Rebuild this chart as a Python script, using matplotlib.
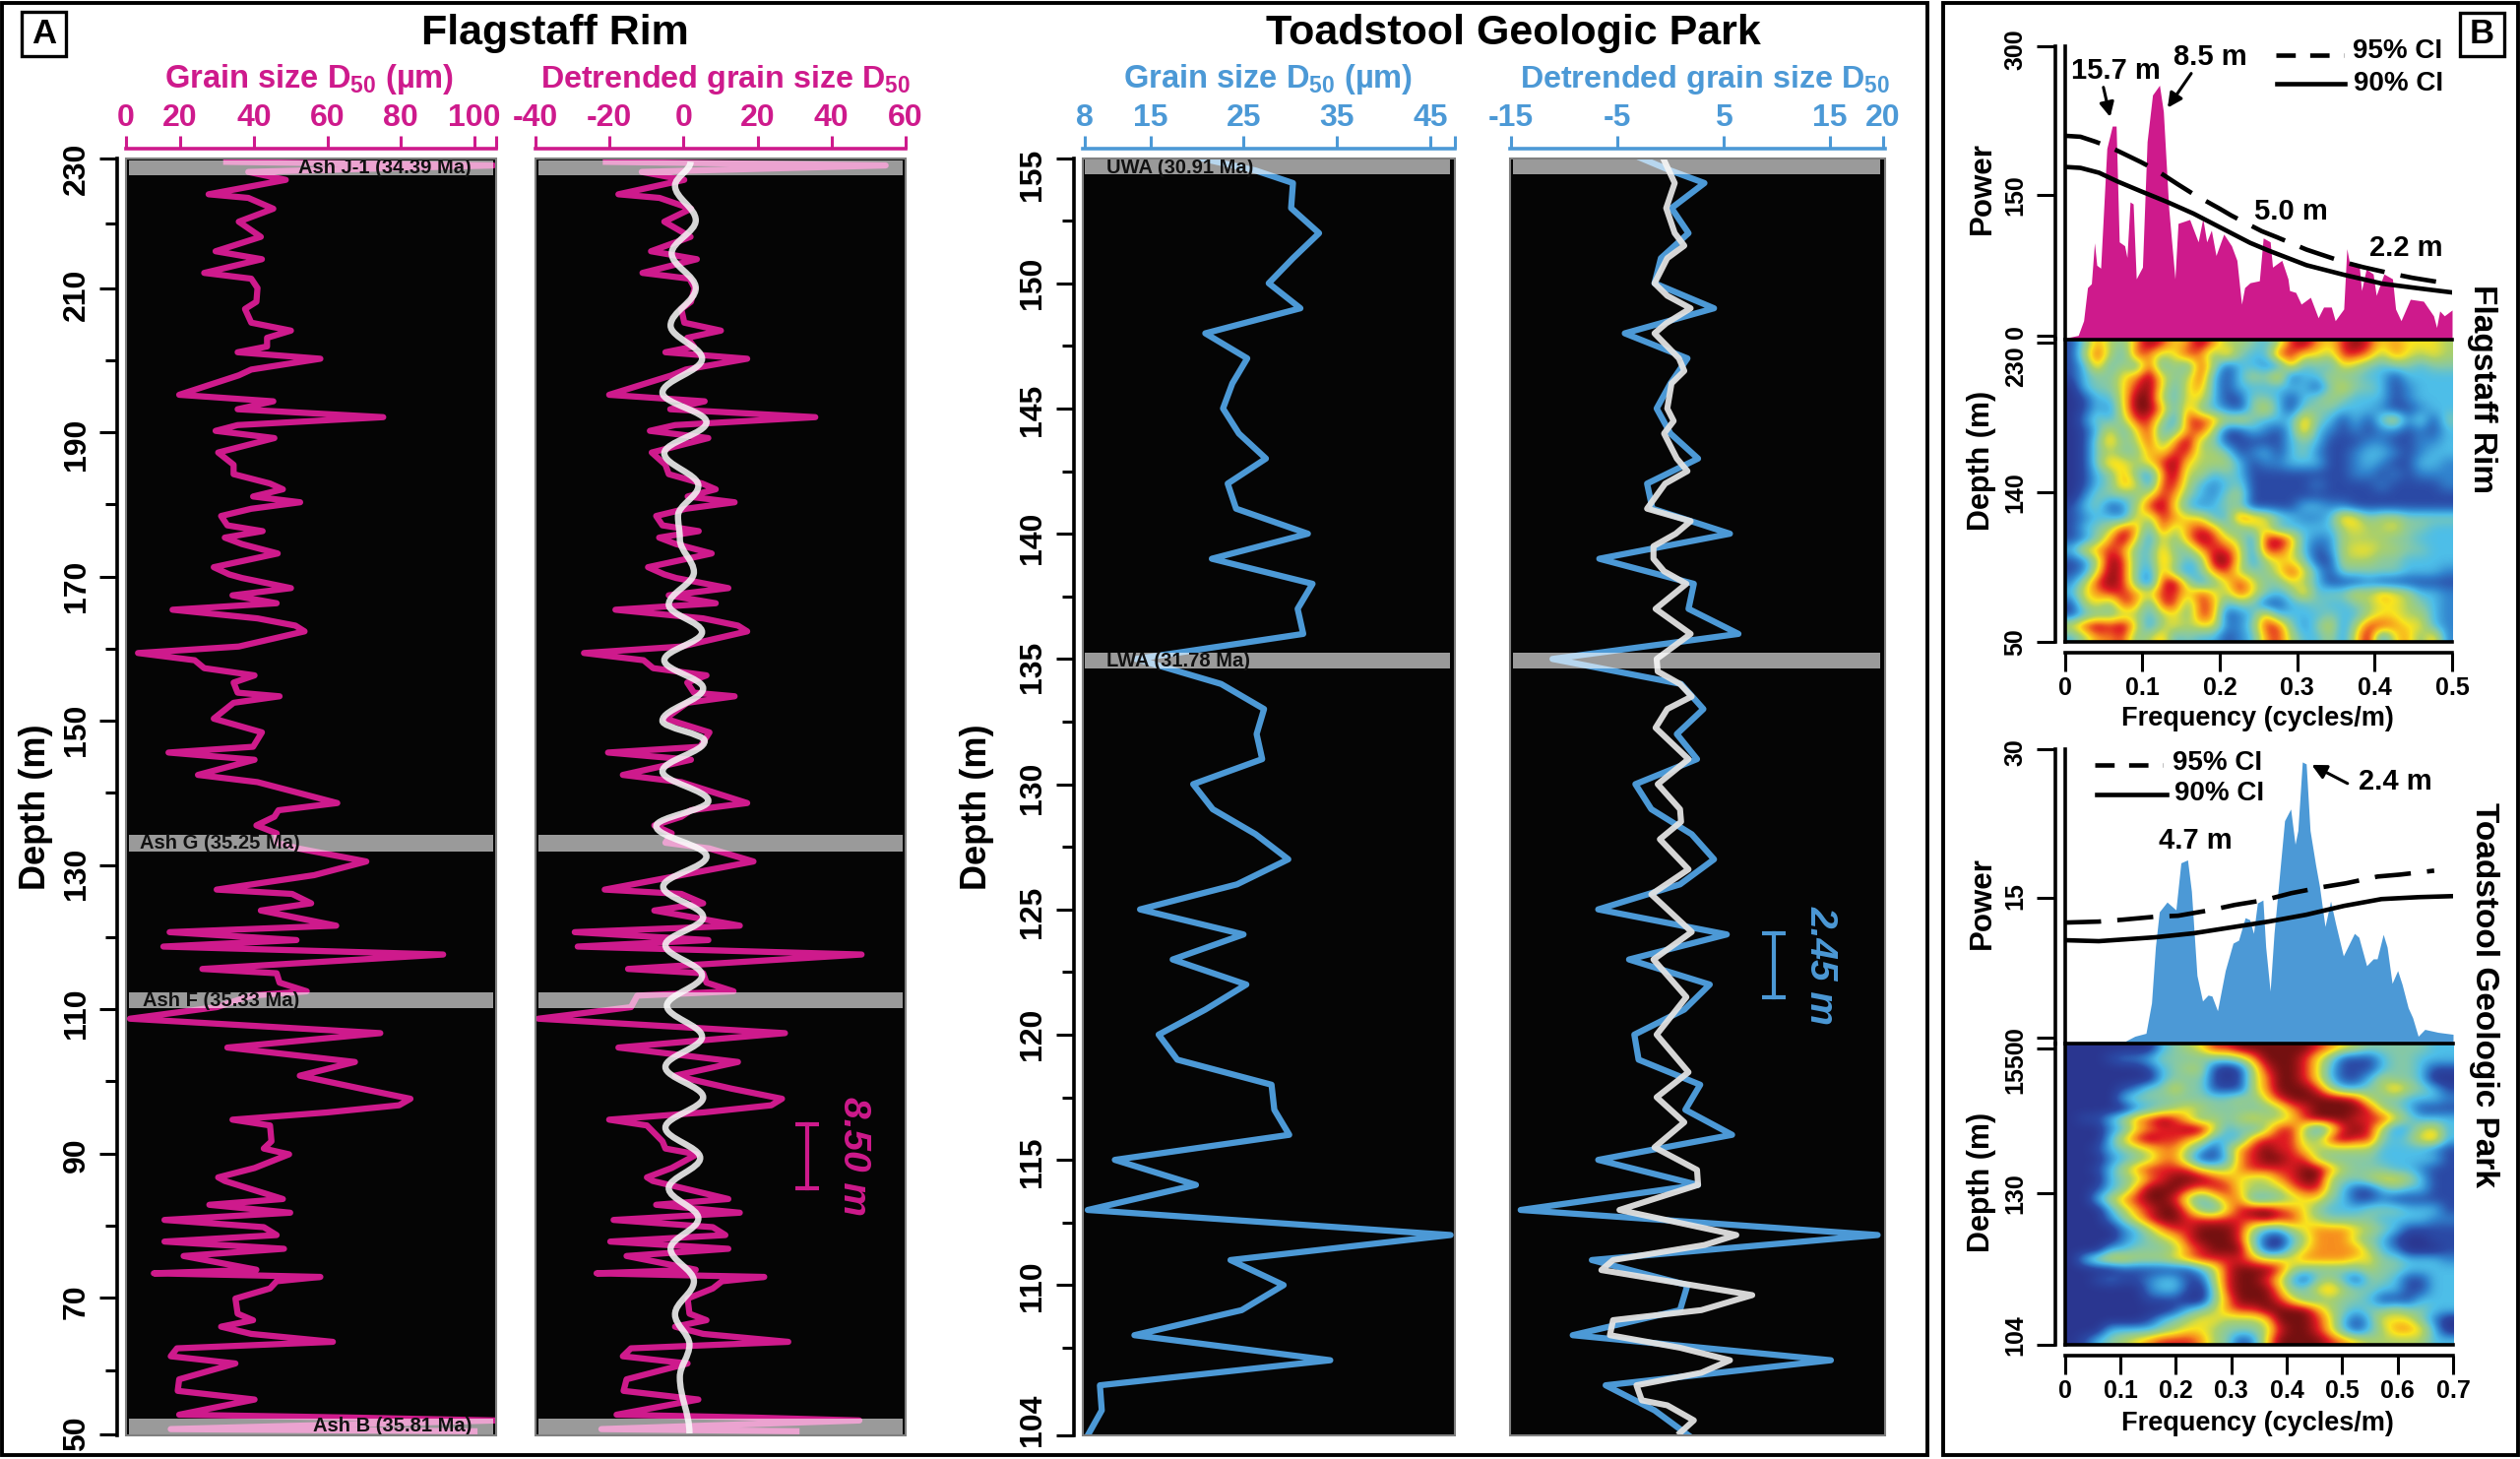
import matplotlib
matplotlib.use("Agg")
import matplotlib.pyplot as plt
import numpy as np
from matplotlib.colors import LinearSegmentedColormap
from matplotlib.lines import Line2D
from matplotlib.patches import Rectangle, PathPatch, FancyArrowPatch
from matplotlib.path import Path
from matplotlib.transforms import ScaledTranslation

plt.rcParams['font.family'] = ['Liberation Sans', 'DejaVu Sans']
plt.rcParams['font.weight'] = 'bold'
plt.rcParams['mathtext.fontset'] = 'custom'
plt.rcParams['mathtext.rm'] = 'Liberation Sans:bold'
plt.rcParams['mathtext.default'] = 'rm'

# ---------- Flagstaff Rim grain size ----------
fs_depth = [227.5,227.0,226.1,225.0,223.0,222.5,221.0,219.2,217.1,215.1,214.0,212.1,211.3,210,208.1,207.1,205.2,204.1,203.1,201.9,
 201.1,200.2,198.7,197.9,195.2,194.3,193.2,192.1,191,190.2,189.2,187.2,185.5,184.2,182.9,182.1,181.1,180.3,179.4,178.4,
 177.1,176.3,175.4,174.5,173.2,171.3,170.3,169.8,168.4,167.4,166.3,165.4,164.2,163.2,162.4,160.3,159.4,158.4,157.3,156.3,
 155.3,153.9,153.4,152.5,150.3,148.4,146.4,145.6,144.6,142.5,141.5,138.6,137.6,136.7,135.5,134.4,133.1,132.3,130.5,128.6,
 126.6,126,124.7,123.7,121.6,120.7,119.6,118.7,117.6,115.6,115,113.7,112.5,111.9,110.3,108.7,106.7,104.7,102.7,100.8,
 99,97.6,96.7,95.7,94.7,93.9,91.7,90.7,89.9,88,86.7,86.2,83.7,82.9,81.8,80.8,79.8,78.7,77.8,76.8,
 75.8,73.9,73.4,73.1,72.9,72.3,71.3,69.9,67.8,66.9,66,65,63.9,63,61.9,60.9,58.7,57.1,55.9,53.8,
 53.4,53,51.8,51.5]
fs_raw = [32.5,105.1,38.5,48.7,27.7,38.5,45.3,35.9,41.9,29.6,42.2,26.5,39.3,41,40.7,37.6,39.3,50.1,43.6,43.6,
 35.6,58.1,39.3,35.9,19.7,45.3,35.6,75.2,35.6,29.6,45.6,30.3,34.5,34.5,44.4,47.9,39.8,52.6,39.3,31.1,
 32.8,42.4,32.1,36.8,46.5,29.1,33.3,36.8,50.1,34.2,46.2,17.9,41,51.3,53.8,35.9,8.5,23.9,26.5,40.2,
 34.5,35.6,47,34.5,29.1,42.2,39.8,16.8,40.2,24.8,41,62.7,46.7,45.6,40.7,46.2,46.2,52.1,70.6,56.4,
 29.9,50.4,55.6,41.9,62.4,17.1,51.6,15.4,91.5,26,46.2,47,54.4,39.3,29.9,6.3,74.4,32.8,67.5,52.5,
 69.2,82.6,79.5,59.8,34.2,44.4,44.8,42.7,49.6,40.2,30.3,32.1,47.9,27.9,49.9,15.7,42.7,46.2,15.7,48.2,
 20.9,40.7,12.8,41,58.1,46.2,44.4,35,35.6,39.8,31.1,39.3,61.5,19.1,17.4,35,19.7,19.3,40.2,19.7,
 66.7,105.6,17.4,100]
fs_detrended = [-21,54.6,-11.3,.2,-17.6,-6.5,2,-5.2,1.9,-8.8,3.6,-11.1,1.6,3,2,-.6,.2,10.1,1,2.8,
 -4.9,17.2,.6,-3.2,-20.1,5.7,-3.6,35.6,-2.3,-9.1,6.7,-8.6,-4.9,-4,5,8.7,1.1,13.8,.6,-7.4,
 -5.7,4.1,-6.6,-2,7.6,-9.6,-5.2,-2,12.1,-4,8.7,-18.4,5.3,14.7,17.2,-.6,-26.9,-10.8,-8.2,6.2,
 1,2.8,13.8,1,-4.9,7,4.5,-20.4,2,-16.4,-.6,17.2,2,-.6,-7.9,-3.2,-4.9,7,18.9,-.6,
 -21.3,-.6,5.3,-7.9,15.2,-29.4,6.7,-28.6,48.1,-15,5.3,6.2,13.5,-12.5,-14.2,-39.2,27.4,-17.6,14.7,-2.3,
 13,26.6,23.7,5.3,-20.1,-9.9,-5.7,-4.9,3.6,-3.2,-9.9,-8.3,12.1,-7.4,15.2,-18.9,7.9,11.3,-19.8,12.1,
 -15.4,3.3,-23.5,2.8,21.8,10.4,7.9,1.1,1.6,6.2,-2.3,5.3,28.3,-14.2,-16.4,1.1,-15.4,-16.2,4,-18.1,
 18.9,47.5,-22.2,30.5]
fs_filter_depth = [227.5,224.2,219.4,214.8,210,204.8,200.2,195.5,191.4,187.1,182.6,178.4,175.2,170.6,166.1,162.3,158.4,154.5,150,147.2,
 143,138.9,135.4,131.2,127,122.8,118.9,114.7,110.5,106.2,102,97.8,93.6,89.4,85.2,81,76.8,72.3,67.7,63.5,59,51.2]
fs_filter = [1.9,-2.3,3.3,-3.2,3.3,-3.5,5,-5.7,6.2,-5.2,4,-1.5,-1,2.8,-4,5,-5.2,5.3,-5.7,5.7,
 -5.7,6.7,-7.4,6.2,-5.5,5.3,-4.9,5,-4.5,5,-4.9,5.3,-4.9,4.5,-4,4,-3.5,2.8,-2.3,1.6,-1,1.6]

# ---------- Toadstool grain size ----------
tg_depth = [155,154.5,154,153,152,151,150,149,148,147,146,145,144,143,142,141,140,139,138,137,136,135,134,133,132,131,130,
 129,128,127,126,125,124,123,122,121,120,119,118,117,116,115,114,113,112,111,110,109,108,107,106,105,104]
tg_raw = [20.3,26.3,30.3,30.1,33.1,30.3,27.7,31.1,20.9,25.4,23.8,22.8,24.5,27.4,23.3,24.2,31.9,21.6,32.4,30.8,31.4,13.5,22.6,27.2,26.4,27,19.6,
 21.7,26.3,29.8,24.3,13.9,25,17.4,25.3,20.9,15.9,17.9,28,28.3,29.9,11.2,19.9,8.3,47.2,23.6,29.3,24.8,13.3,34.3,9.6,9.8,8.3]
tg_detrended = [-2.8,0,3.2,.1,1.7,-.9,-1.5,4.1,-4.3,1.6,0,-1.3,0,2.6,-2.2,-1.7,5.6,-6.7,2.2,1.7,6.4,-11.1,1,3.1,.6,2.5,-3.3,
 -1.8,2,4.1,.9,-6.8,5.3,-3.9,3.7,1.3,-3.4,-3,2.8,1.4,5.8,-6.8,2.6,-14.1,19.5,-7.4,1.6,.9,-9.2,15.1,-6.1,-1.5,1.7]
tg_filter_depth = [155,154,153,152,151.5,151,150,149.5,149,148.4,148,147,146.5,146,145,144.5,144,143,142.5,142,141,140.5,140,139.5,139,138.5,138,137,136,135,134.5,134,133.5,133,132.25,
 131,130,129,128.5,127.8,126.6,125.6,124.1,123,121.5,120,118.5,117.5,116.5,115.5,114.6,114,113,112,111.6,111,110.6,109.6,109,108.6,108,107.5,107,106.5,106,105.4,105.2,104.6,104.1]
tg_filter = [-.7,.4,-.4,.4,1.3,-.3,-1.5,-.3,1.9,-.4,-1.5,.8,1.3,.1,-.3,.3,-.6,.6,1.6,-.5,-2.2,1.9,.5,-1.6,-1.6,-.6,1.5,-1.4,1.9,-1.3,-1.2,.9,2,-.3,-1.4,
 1.7,-1.2,.9,1,-1,1.7,-1.8,2,-1.6,1.5,-1.3,1.7,-1.3,1.3,-1.5,2.5,2.6,-4.8,6.2,3.2,-5.4,-6.5,7.7,2.9,-5.4,-5.7,.9,5.6,2.9,-3.2,-2.7,-.3,2.2,.9]

# ---------- Spectra ----------
fs_freq = [0,.017,.024,.029,.034,.038,.041,.046,.054,.061,.066,.070,.077,.080,.084,.088,.092,.100,.106,.113,.122,.127,.134,.142,.146,.161,.172,.178,.183,.189,.195,.205,.215,.222,.228,.232,.239,.251,.256,.265,.268,.280,.288,.290,.298,.305,.317,.327,.334,.344,.349,.360,.364,.368,.380,.383,.389,.398,.402,.412,.423,.427,.434,.446,.463,.476,.480,.484,.490,.500]
fs_power = [0,2.9,18,52,56,98,75,72,195,218,218,99,95,83,140,138,61,73,202,250,260,233,133,61,118,122,99,123,99,111,85,107,95,80,35,52,57,59,103,99,73,80,61,49,47,35,42,21,32,32,18,30,92,75,75,49,71,66,44,66,61,30,18,40,38,23,11,28,23,29]
fs_ci95_f = [0,.02,.039,.059,.098,.117,.146,.166,.2,.215,.254,.273,.312,.327,.361,.385,.424,.449,.488]
fs_ci95 = [208,207,202,196,181,173,158,148,133,126,110,104,91,87,78,73,66,62,57]
fs_ci90_f = [0,.02,.044,.068,.098,.132,.166,.2,.239,.263,.312,.361,.41,.459,.5]
fs_ci90 = [176,175,170,161,151,140,128,114,98,90,75,65,56,51,47]

tg_freq = [0,.109,.126,.146,.156,.163,.17,.184,.2,.209,.221,.228,.238,.248,.258,.265,.275,.289,.303,.313,.325,.333,.34,.347,.357,.362,.37,.377,.384,.396,.407,.415,.42,.428,.435,.442,.452,.459,.469,.479,.488,.502,.522,.53,.544,.556,.563,.574,.581,.59,.6,.608,.619,.627,.637,.649,.673,.7]
tg_power = [.1,.2,.7,1,4.1,9.8,13.4,14.4,13.6,18.4,18.7,15.5,6.9,4.3,4.9,4.8,3.3,7.4,10.2,10.5,12.8,12.6,11.2,14.3,14.6,9.8,5.3,11.2,15.4,22.7,23.9,20.3,21.7,28.7,28.5,21.7,18.2,16,11.9,14.5,12.2,8.9,11.2,10.8,7.9,8.6,8.6,11.1,9.8,6.1,7.4,6,3.6,2.6,.7,1.4,1.1,.9]
tg_ci95_f = [0,.061,.105,.163,.204,.265,.306,.36,.408,.462,.506,.564,.605,.666]
tg_ci95 = [12.3,12.4,12.6,12.9,13,13.6,14.1,14.6,15.3,15.9,16.3,17,17.2,17.6]
tg_ci90_f = [0,.061,.163,.231,.299,.367,.435,.503,.571,.639,.7]
tg_ci90 = [10.5,10.4,10.8,11.2,11.8,12.4,13.1,14,14.7,14.9,15]

# ---------- Evolutive spectra, rows top to bottom, 0 = low, 9 = high ----------
fs_spec = """
1475479867 9755435897 6898676665
1585387568 7474338866 5887576565
1373538353 8513322734 3654344344
1344679645 8313547133 5443313333
0344689636 7313333331 4644312333
0133699536 6311443134 5433312333
0132699737 4321463144 4333211233
0243588528 8756433374 3131462414
0136368347 8511321373 2121221213
0147458479 5411111343 1112211223
0145447688 5541231342 1123321233
0147656896 5553122333 1123211332
0134742795 5343111111 1122121222
0134762885 3234111112 1111211112
0244446874 3245111111 1111111111
1341258963 2344111133 2211111111
1233265876 6338764322 3764554444
1345873857 8744563333 3565564433
1247962647 9865289732 2555544333
3678743744 7886288631 2566554433
1259843753 4996256641 1555443333
1269842742 4785446863 1444443332
2589841895 2468644653 1112111111
3678876886 8658643473 4465765332
1564873884 8734411334 3345665432
1344553564 8712373333 4335665532
6898962565 6622488424 6258876632
3577845734 3312378533 5269267472
"""
tg_spec = """
0000000345 6889999998 7654444433
0001223444 4445799986 4111344333
0000001345 5101589986 3111344311
0000000344 4101579986 3113544300
0000124464 4111579998 5334575431
0000344444 4445468999 9985443332
0000023456 5444445789 9998543111
0113578986 4545655689 9988864333
0002367889 9634358852 5898523563
0003689887 6333788855 8988434673
0013456775 3147898865 5555333321
0002345774 1137899885 4444333331
0013578888 6557888899 7544433211
0003457899 9876557899 5445665311
0013479998 7886555788 5311343311
0035789985 3577334566 4311211111
0003578997 4368998764 3334443331
0002468998 8888898865 4444333322
0000235788 9998533567 7765431111
0000234568 9998410357 7754310011
0003344457 8999511467 7775320001
0356655567 8888766677 7766443332
0000111111 3589998544 4445443333
0012112331 1589986314 5314431133
0000002331 0489997446 7544331133
0000001110 0479998644 5443111333
0000000013 4578899997 5434454433
0000001345 6655569998 6313666420
0003333456 6544458998 6313577630
0134567888 7541269999 8765555533
"""

# ---------- Labels ----------
fs_x_ticks = [0, 20, 40, 60, 80, 100]
det_fs_ticks = [-40, -20, 0, 20, 40, 60]
tg_x_ticks = [8, 15, 25, 35, 45]
det_tg_ticks = [-15, -5, 5, 15, 20]
ash_fs = [("Ash J-1 (34.39 Ma)", 227.7, 225.6, .70, 226.7), ("Ash G (35.25 Ma)", 134.2, 131.9, .254, 133.0),
          ("Ash F (35.33 Ma)", 112.4, 110.1, .258, 111.2), ("Ash B (35.81 Ma)", 53.3, 50.95, .72, 52.2)]
ash_tg = [("UWA (30.91 Ma)", 154.96, 154.35, .261, 154.6), ("LWA (31.78 Ma)", 135.26, 134.61, .257, 134.93)]

PINK = '#CE1A8C'
BLUE = '#4C99D6'
LINE_W = 4.5
DASH = (0, (8, 3.6))
W, H = 2560, 1482
fig = plt.figure(figsize=(W/100, H/100), dpi=100, facecolor='white')

def box(l, t, r, b):
    return fig.add_axes([l/W, 1-b/H, (r-l)/W, (b-t)/H])

def ftext(x, y, s, **kw):
    kw.setdefault('ha', 'center'); kw.setdefault('va', 'center'); kw.setdefault('fontweight', 'bold')
    return fig.text(x/W, 1-y/H, s, **kw)

def shift(labels, dys):
    for lab, dy in zip(labels, dys):
        lab.set_transform(lab.get_transform() + ScaledTranslation(0, -dy/100, fig.dpi_scale_trans))
        lab.set_verticalalignment('center')

def log_axes(ax, color, xlim, xticks, xlabels, ylim):
    ax.set_facecolor('#050505')
    ax.set_xlim(*xlim); ax.set_ylim(*ylim)
    for s in ['bottom', 'right', 'left']:
        ax.spines[s].set_visible(False)
    ax.add_patch(Rectangle((0, 0), 1, 1, transform=ax.transAxes, fill=False, ec='#808080', lw=1.5, clip_on=False, zorder=6))
    ax.spines['top'].set_position(('outward', 6.8))
    ax.spines['top'].set_color(color); ax.spines['top'].set_linewidth(2.6)
    ax.xaxis.tick_top()
    ax.set_xticks(xticks, xlabels)
    ax.tick_params(axis='x', colors=color, length=9.5, width=2.2, pad=2, labelsize=23)
    ax.set_yticks([])

def depth_axis(ax, major, labels, minor, dys, outward):
    ax.spines['left'].set_visible(True)
    ax.spines['left'].set_position(('outward', outward))
    ax.spines['left'].set_linewidth(2.6)
    ax.set_yticks(major, labels)
    ax.set_yticks(minor, minor=True)
    ax.tick_params(axis='y', which='major', length=13, width=2.2, pad=6, labelsize=23, labelrotation=90)
    ax.tick_params(axis='y', which='minor', length=8.5, width=2.2)
    shift(ax.get_yticklabels(), dys)

def bands(ax, items, xmin, xmax, text=True):
    for name, d0, d1, xf, dt in items:
        ax.axhspan(d1, d0, xmin=xmin, xmax=xmax, fc='white', ec='none', alpha=.6, zorder=4)
        if text:
            ax.text(xf, dt, name, transform=ax.get_yaxis_transform(), ha='center', va='center',
                    fontsize=14.5, color='#111111', zorder=5, fontweight='bold')

def smooth_filter(ax, vals, depths, **kw):
    verts = [(vals[0], depths[0])]
    codes = [Path.MOVETO]
    for i in range(1, len(vals)):
        dd = depths[i] - depths[i-1]
        verts += [(vals[i-1], depths[i-1] + .3642*dd), (vals[i], depths[i] - .3642*dd), (vals[i], depths[i])]
        codes += [Path.CURVE4] * 3
    ax.add_patch(PathPatch(Path(verts, codes), fill=False, **kw))

# ---- frames
fig.add_artist(Rectangle((2/W, 1-1478/H), 1956/W, 1475/H, transform=fig.transFigure, fill=False, ec='black', lw=2.8))
fig.add_artist(Rectangle((1974/W, 1-1478/H), 584/W, 1475/H, transform=fig.transFigure, fill=False, ec='black', lw=2.8))
fig.add_artist(Rectangle((22/W, 1-57/H), 45/W, 45/H, transform=fig.transFigure, fill=False, ec='black', lw=2.4))
fig.add_artist(Rectangle((2499/W, 1-57/H), 45/W, 44/H, transform=fig.transFigure, fill=False, ec='black', lw=2.4))
ftext(44.5, 35, "A", fontsize=25)
ftext(2521.5, 35, "B", fontsize=25)
ftext(564, 34, "Flagstaff Rim", fontsize=31)
ftext(1537, 34, "Toadstool Geologic Park", fontsize=31)

# ---- Panel A Flagstaff
fs_ylim = (50.93, 228.03)
ax1 = box(127.5, 160.5, 504, 1458)
log_axes(ax1, PINK, (5.1, 105.9), [5.1, 20, 40, 60, 80, 100, 105.9], ['0', '20', '40', '60', '80', '100', ''], fs_ylim)
depth_axis(ax1, [228.03, 210, 190, 170, 150, 130, 110, 90, 70, 51],
           ['230', '210', '190', '170', '150', '130', '110', '90', '70', '50'],
           [219, 200, 180, 160, 140, 120, 100, 80, 60], [11, 7, 12, 10, 9, 9, 4, 1, 4, -1], 5.8)
ax1.plot(fs_raw, fs_depth, color=PINK, lw=LINE_W, zorder=2)
bands(ax1, ash_fs, .0085, .9915)

ax2 = box(544, 160.5, 920, 1458)
log_axes(ax2, PINK, (-40, 60), det_fs_ticks, [str(t) for t in det_fs_ticks], fs_ylim)
ax2.plot(fs_detrended, fs_depth, color=PINK, lw=LINE_W, zorder=2)
smooth_filter(ax2, fs_filter, fs_filter_depth, ec='#F4F4F4', lw=4.6, alpha=.88, zorder=3)
bands(ax2, ash_fs, .007, .993, text=False)
ax2.plot([33.3, 33.3], [94.0, 85.2], color=PINK, lw=3, marker='_', ms=17, mew=3, clip_on=False)

ftext(314.5, 81, "Grain size D$_{50}$ (µm)", color=PINK, fontsize=23.5)
ftext(737, 81, "Detrended grain size D$_{50}$", color=PINK, fontsize=23.2)
ftext(36, 820, "Depth (m)", rotation=90, fontsize=26)
ftext(867, 1174, "8.50 m", rotation=270, color=PINK, fontsize=28, style='italic')

# ---- Panel A Toadstool
tg_ylim = (104, 155)
ax3 = box(1100.3, 160.5, 1478, 1458)
log_axes(ax3, BLUE, (7.8, 47.66), tg_x_ticks + [47.66], [str(t) for t in tg_x_ticks] + [''], tg_ylim)
depth_axis(ax3, [155, 150, 145, 140, 135, 130, 125, 120, 115, 110, 104],
           ['155', '150', '145', '140', '135', '130', '125', '120', '115', '110', '104'],
           [152.5, 147.5, 142.5, 137.5, 132.5, 127.5, 122.5, 117.5, 112.5, 107.5],
           [17, 0, 1, 4, 8, 4, 3, -1, 2, 1, -16], 7)
ax3.plot(tg_raw, tg_depth, color=BLUE, lw=LINE_W, zorder=2)
bands(ax3, ash_tg, .005, .987)

ax4 = box(1534, 160.5, 1915, 1458)
log_axes(ax4, BLUE, (-15.1, 20.2), det_tg_ticks, [str(t) for t in det_tg_ticks], tg_ylim)
ax4.plot(tg_detrended, tg_depth, color=BLUE, lw=LINE_W, zorder=2)
ax4.plot(tg_filter, tg_filter_depth, color='#E2E2E2', lw=4.4, alpha=.95, zorder=3)
bands(ax4, ash_tg, .008, .988, text=False)
ax4.plot([9.7, 9.7], [124.05, 121.5], color=BLUE, lw=3, marker='_', ms=17, mew=3, clip_on=False)

ftext(1288, 81, "Grain size D$_{50}$ (µm)", color=BLUE, fontsize=23.5)
ftext(1732, 81, "Detrended grain size D$_{50}$", color=BLUE, fontsize=23.2)
ftext(993, 820, "Depth (m)", rotation=90, fontsize=26)
ftext(1850, 981, "2.45 m", rotation=270, color=BLUE, fontsize=28, style='italic')

# ---- Panel B
cmap = LinearSegmentedColormap.from_list('spec', ['#2A3690', '#2B4AA6', '#3184CE', '#4DBEE8', '#86C9A6',
                                                  '#A9D06C', '#F9E41E', '#F7901E', '#E01B22', '#741010'])

def grid(text):
    rows = [r.replace(' ', '') for r in text.strip().splitlines()]
    return np.array([[int(c) for c in r] for r in rows], float)

def left_axis(ax, major, labels, dys):
    ax.spines['left'].set_position(('outward', 7.4))
    ax.spines['left'].set_linewidth(2.6)
    ax.set_yticks(major, labels)
    ax.tick_params(axis='y', length=14, width=2.2, pad=6, labelsize=18, labelrotation=90)
    shift(ax.get_yticklabels(), dys)
    ax.plot([0, 0], [0, 1], transform=ax.transAxes, color='black', lw=2.6, clip_on=False, zorder=6)

def spectrum(box_pow, box_spec, freq, power, ci95f, ci95, ci90f, ci90, color, fmax, pmax, pticks, plabels, pdy,
             spec, extent_y, dticks, dlabels, ddy, fticks):
    a = box(*box_pow)
    a.set_xlim(0, fmax); a.set_ylim(0, pmax)
    a.fill_between(freq, 0, power, color=color, lw=0)
    a.plot(ci95f, ci95, color='black', lw=3.3, ls=DASH, zorder=4)
    a.plot(ci90f, ci90, color='black', lw=3.3, zorder=4)
    for s in ['top', 'right', 'bottom']:
        a.spines[s].set_visible(False)
    a.set_xticks([])
    left_axis(a, pticks, plabels, pdy)
    a.patch.set_alpha(0)
    s = box(*box_spec)
    s.imshow(spec, cmap=cmap, vmin=0, vmax=9, aspect='auto', interpolation='bicubic',
             extent=(0, fmax, extent_y[0], extent_y[1]))
    s.spines['right'].set_visible(False)
    s.spines['top'].set_linewidth(2.6)
    s.spines['bottom'].set_position(('outward', 7.9))
    s.spines['bottom'].set_linewidth(2.6)
    s.set_xticks(fticks, ['0' if t == 0 else f'{t:.1f}' for t in fticks])
    s.tick_params(axis='x', length=13.5, width=2.2, pad=4, labelsize=18)
    left_axis(s, dticks, dlabels, ddy)
    s.plot([0, 1], [0, 0], transform=s.transAxes, color='black', lw=2.6, clip_on=False, zorder=6)
    return a, s

spectrum((2097.8, 47, 2491, 343.5), (2097.8, 344.5, 2491, 652), fs_freq, fs_power, fs_ci95_f, fs_ci95, fs_ci90_f, fs_ci90,
         PINK, .5, 300, [3, 147, 300], ['0', '150', '300'], [-3, 0, 3],
         grid(fs_spec), (50, 232), [230, 140, 50], ['230', '140', '50'], [24, 0, 0], [0, .1, .2, .3, .4, .5])
spectrum((2097.8, 761, 2492, 1059.5), (2097.8, 1060.4, 2492, 1365.6), tg_freq, tg_power, tg_ci95_f, tg_ci95, tg_ci90_f, tg_ci90,
         BLUE, .7, 30, [.6, 14.8, 30], ['0', '15', '30'], [-3, -2, 3],
         grid(tg_spec), (104, 155.7), [155, 130, 104], ['1550', '130', '104'], [19, 0, -9], [0, .1, .2, .3, .4, .5, .6, .7])

ftext(2013.5, 191, "Power", rotation=90, fontsize=22.5)
ftext(2013.5, 468, "Depth (m)", rotation=90, fontsize=22)
ftext(2013.5, 917, "Power", rotation=90, fontsize=22.5)
ftext(2013.5, 1201, "Depth (m)", rotation=90, fontsize=22)
ftext(2293, 730, "Frequency (cycles/m)", fontsize=19.5)
ftext(2293, 1446, "Frequency (cycles/m)", fontsize=19.5)
ftext(2522, 395, "Flagstaff Rim", rotation=270, fontsize=24)
ftext(2524, 1010.7, "Toadstool Geologic Park", rotation=270, fontsize=24)

for x, y, s in [(2149.4, 72.2, "15.7 m"), (2245, 57.6, "8.5 m"), (2327, 215, "5.0 m"), (2444, 252.5, "2.2 m"),
                (2230.6, 853.6, "4.7 m"), (2433.4, 794.4, "2.4 m")]:
    ftext(x, y, s, fontsize=21)
for x, y, s in [(2435.7, 52, "95% CI"), (2437, 85, "90% CI"), (2252.8, 775.5, "95% CI"), (2254.7, 806, "90% CI")]:
    ftext(x, y, s, fontsize=20)
for x0, x1, y, ls in [(2312, 2381, 55.7, (0, (4.3, 3.2))), (2313, 2382, 85, '-'), (2128.4, 2197.3, 777, (0, (4.3, 3.2))), (2130, 2201, 807, '-')]:
    fig.add_artist(Line2D([x0/W, x1/W], [1-y/H, 1-y/H], transform=fig.transFigure, color='black', lw=3.3, ls=ls))
for (x0, y0), (x1, y1) in [((2136.8, 88.7), (2143.7, 118.9)), ((2226, 74.6), (2202, 109.5)), ((2384.8, 795.8), (2348.4, 776.9))]:
    fig.add_artist(FancyArrowPatch((x0/W, 1-y0/H), (x1/W, 1-y1/H), transform=fig.transFigure, arrowstyle='-|>',
                                   mutation_scale=22, color='black', lw=2.2, shrinkA=0, shrinkB=0))

fig.savefig('out.png', dpi=100)
